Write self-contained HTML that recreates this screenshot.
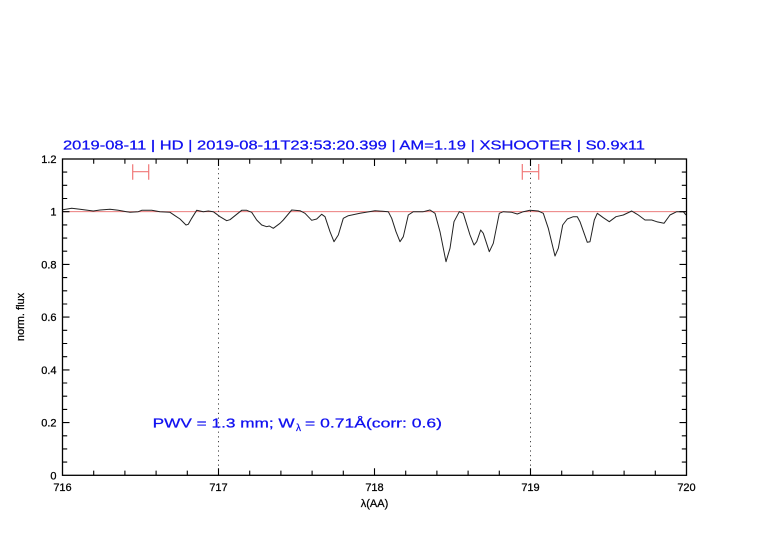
<!DOCTYPE html>
<html><head><meta charset="utf-8"><style>
html,body{margin:0;padding:0;background:#fff;}
svg{display:block;}
text{font-family:"Liberation Sans",sans-serif;}
</style></head><body>
<svg width="782" height="542" viewBox="0 0 782 542" xmlns="http://www.w3.org/2000/svg">
<rect width="782" height="542" fill="#fff"/>
<!-- title -->
<text x="63" y="149.5" font-size="13" fill="#1010f0" stroke="#1010f0" stroke-width="0.25" textLength="582" lengthAdjust="spacingAndGlyphs">2019-08-11 | HD | 2019-08-11T23:53:20.399 | AM=1.19 | XSHOOTER | S0.9x11</text>
<!-- reference line at 1 -->
<line x1="62.5" y1="211.7" x2="686.5" y2="211.7" stroke="#e86a6a" stroke-width="0.9"/>
<!-- dotted verticals -->
<line x1="218.5" y1="159" x2="218.5" y2="475.3" stroke="#444" stroke-width="1" stroke-dasharray="1.2,3.5"/>
<line x1="530.5" y1="159" x2="530.5" y2="475.3" stroke="#444" stroke-width="1" stroke-dasharray="1.2,3.5"/>
<!-- error bars -->
<g stroke="#f07878" stroke-width="1.2" fill="none">
<path d="M132.7 164.3V179.7M148.7 164.3V179.7M132.7 171.7H148.7"/>
<path d="M522.3 164V179.7M538.7 164V179.7M522.3 171.7H538.7"/>
</g>
<!-- spectrum -->
<polyline fill="none" stroke="#222" stroke-width="1" stroke-linejoin="round" points="62.7,209.7 71.7,208.3 80,209.3 93.3,211 100,210 110,209.3 118.3,210.3 130,212.3 138.3,211.7 141.7,210.3 151.7,210.3 160,211.7 170,212.3 175,215.7 180,219 186,225 188.3,224.3 191.7,218.3 196.7,210.3 200,211 203.3,211.7 208.3,211 213.3,211.7 220,216.7 226.7,220.7 230,219.7 236.7,214.3 241.7,210.3 246.7,210.3 251.7,212.3 256.7,220 261.7,225 266.7,226.7 269.3,226 273.3,228.3 280,223.3 283.3,220 291.7,210 300,210.7 305,213.3 311.7,220.3 316.7,219 321.7,214.3 325,216.7 330,231.7 334,241.7 338.3,235 343.3,218.3 348.3,215.7 360,213.3 375,210.7 388.3,211.7 391.7,218.3 396,231.7 400,241.7 403.3,236.7 408.3,215 413.3,211.7 423.3,211.7 430,210 435,213.3 440,231.7 446,261.7 450,248.3 454,221.7 459.3,211.7 463.3,213.3 470,235 474,245 476.7,241.7 480.7,230 483.3,233.3 489.3,251.7 493.3,243.3 499.3,213.3 503.3,211.7 511.7,212.3 517.3,214 523.3,211.7 530,210.3 538.3,211 543.3,213.3 548.3,228.3 555,256 558.3,248.3 562.7,225 567.3,219 573.3,216.7 577.3,216.7 580,221.7 587.3,242.3 590,241.7 594.3,220 597.3,213.3 603.3,217.7 609.3,221.7 616,216.7 623.3,215 631.7,211 638.3,215 645,220 651.7,220 656.7,221.7 664,223.3 670,215 676.7,211.7 683.3,211.7 686,215"/>
<!-- frame -->
<rect x="62.5" y="159" width="624" height="316.3" fill="none" stroke="#000" stroke-width="1.3"/>
<!-- ticks -->
<g stroke="#000" stroke-width="1.1">
<path d="M93.7 475.3v-4.7M124.9 475.3v-4.7M156.1 475.3v-4.7M187.3 475.3v-4.7M218.5 475.3v-7M249.7 475.3v-4.7M280.9 475.3v-4.7M312.1 475.3v-4.7M343.3 475.3v-4.7M374.5 475.3v-7M405.7 475.3v-4.7M436.9 475.3v-4.7M468.1 475.3v-4.7M499.3 475.3v-4.7M530.5 475.3v-7M561.7 475.3v-4.7M592.9 475.3v-4.7M624.1 475.3v-4.7M655.3 475.3v-4.7"/>
<path d="M93.7 159v4.7M124.9 159v4.7M156.1 159v4.7M187.3 159v4.7M218.5 159v7M249.7 159v4.7M280.9 159v4.7M312.1 159v4.7M343.3 159v4.7M374.5 159v7M405.7 159v4.7M436.9 159v4.7M468.1 159v4.7M499.3 159v4.7M530.5 159v7M561.7 159v4.7M592.9 159v4.7M624.1 159v4.7M655.3 159v4.7"/>
<path d="M62.5 462.1h4.7M62.5 448.9h4.7M62.5 435.8h4.7M62.5 422.6h7M62.5 409.4h4.7M62.5 396.2h4.7M62.5 383h4.7M62.5 369.9h7M62.5 356.7h4.7M62.5 343.5h4.7M62.5 330.3h4.7M62.5 317.1h7M62.5 304h4.7M62.5 290.8h4.7M62.5 277.6h4.7M62.5 264.4h7M62.5 251.2h4.7M62.5 238.1h4.7M62.5 224.9h4.7M62.5 211.7h7M62.5 198.5h4.7M62.5 185.3h4.7M62.5 172.1h4.7"/>
<path d="M686.5 462.1h-4.7M686.5 448.9h-4.7M686.5 435.8h-4.7M686.5 422.6h-7M686.5 409.4h-4.7M686.5 396.2h-4.7M686.5 383h-4.7M686.5 369.9h-7M686.5 356.7h-4.7M686.5 343.5h-4.7M686.5 330.3h-4.7M686.5 317.1h-7M686.5 304h-4.7M686.5 290.8h-4.7M686.5 277.6h-4.7M686.5 264.4h-7M686.5 251.2h-4.7M686.5 238.1h-4.7M686.5 224.9h-4.7M686.5 211.7h-7M686.5 198.5h-4.7M686.5 185.3h-4.7M686.5 172.1h-4.7"/>
</g>
<!-- y labels -->
<g font-size="11" fill="#000" stroke="#000" stroke-width="0.25" text-anchor="end">
<text x="56.5" y="163">1.2</text>
<text x="56.5" y="215.7">1</text>
<text x="56.5" y="268.4">0.8</text>
<text x="56.5" y="321.1">0.6</text>
<text x="56.5" y="373.9">0.4</text>
<text x="56.5" y="426.6">0.2</text>
<text x="56.5" y="479.3">0</text>
</g>
<!-- x labels -->
<g font-size="11" fill="#000" stroke="#000" stroke-width="0.25" text-anchor="middle">
<text x="62.5" y="491">716</text>
<text x="218.5" y="491">717</text>
<text x="374.5" y="491">718</text>
<text x="530.5" y="491">719</text>
<text x="686.5" y="491">720</text>
</g>
<text x="374.5" y="507" font-size="11" text-anchor="middle" fill="#000" stroke="#000" stroke-width="0.25">λ(AA)</text>
<text transform="translate(24,317) rotate(-90)" font-size="11" text-anchor="middle" fill="#000" stroke="#000" stroke-width="0.25">norm. flux</text>
<!-- PWV annotation -->
<g fill="#1010f0" stroke="#1010f0" stroke-width="0.25">
<text x="152.7" y="427.7" font-size="13" textLength="142" lengthAdjust="spacingAndGlyphs">PWV = 1.3 mm; W</text>
<text x="296" y="431" font-size="10">λ</text>
<text x="305" y="427.7" font-size="13" textLength="137" lengthAdjust="spacingAndGlyphs">= 0.71Å(corr: 0.6)</text>
</g>
</svg>
</body></html>
